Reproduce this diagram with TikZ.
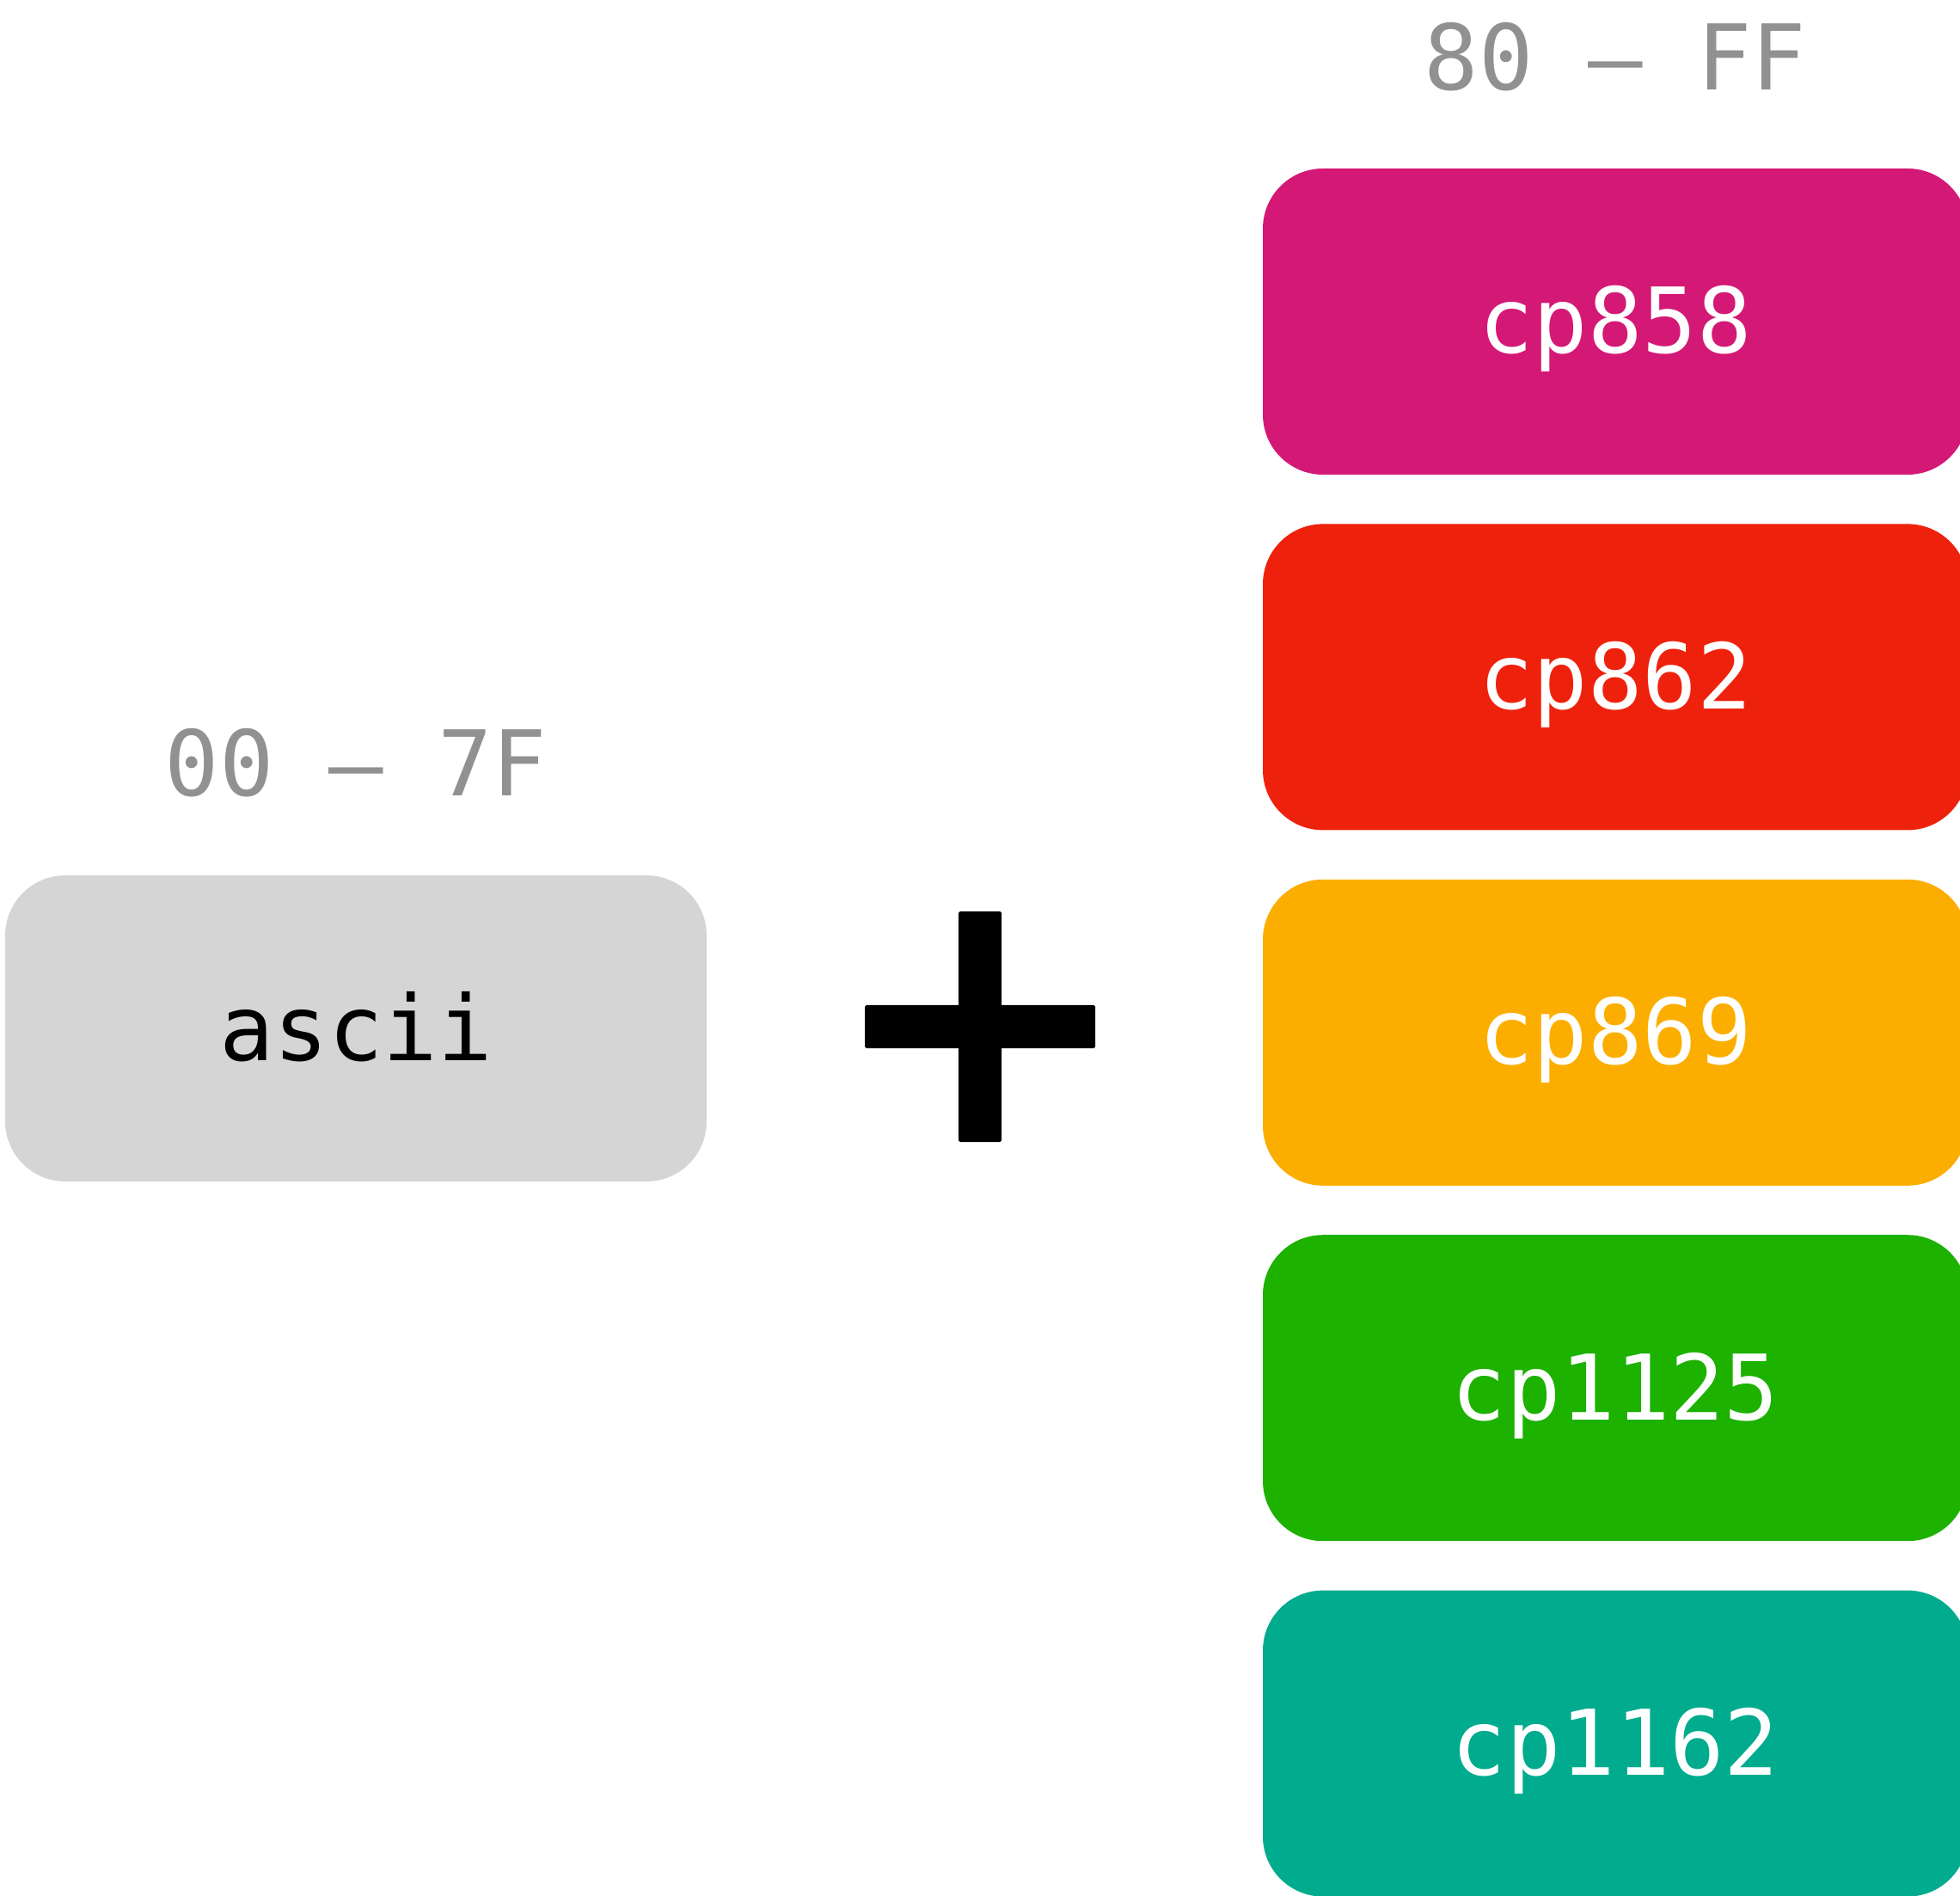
\documentclass[tikz,border=0pt]{standalone}
\usepackage{fontspec}
\setmonofont{DejaVu Sans Mono}
\usetikzlibrary{positioning}

\definecolor{boxgray}{HTML}{D5D5D5}
\definecolor{labelgray}{HTML}{919191}
\definecolor{cpmagenta}{HTML}{D41876}
\definecolor{cpred}{HTML}{EE220C}
\definecolor{cporange}{HTML}{FCAE00}
\definecolor{cpgreen}{HTML}{1DB100}
\definecolor{cpteal}{HTML}{00AB8E}

\tikzset{
	codebox/.style={rounded corners=0.7cm, minimum height=3.56cm, inner sep=0pt,
		text height=0.74cm, text depth=0pt, font=\ttfamily\fontsize{30}{36}\selectfont},
	pagebox/.style={codebox, minimum width=8.2cm, text=white},
	rangelabel/.style={anchor=base, inner sep=0pt, text=labelgray,
		font=\ttfamily\fontsize{30}{36}\selectfont}
}

\begin{document}
\begin{tikzpicture}
	\clip (0,0) rectangle (22.8,22.04);
	
	\node[codebox, fill=boxgray, minimum width=8.16cm] (ascii) at (4.14,10.08) {ascii};
	\node[rangelabel] (lowrange) at ([yshift=0.92cm]ascii.north) {00 — 7F};
	
	\coordinate (plus) at (11.40,10.10);
	\fill[rounded corners=0.5pt] ([xshift=-1.34cm,yshift=-0.25cm]plus) rectangle ([xshift=1.34cm,yshift=0.25cm]plus);
	\fill[rounded corners=0.5pt] ([xshift=-0.25cm,yshift=-1.34cm]plus) rectangle ([xshift=0.25cm,yshift=1.34cm]plus);
	
	\node[pagebox, fill=cpmagenta] (cp858) at (18.79,18.30) {cp858};
	\node[pagebox, fill=cpred, below=0.56cm of cp858] (cp862) {cp862};
	\node[pagebox, fill=cporange, below=0.56cm of cp862] (cp869) {cp869};
	\node[pagebox, fill=cpgreen, below=0.56cm of cp869] (cp1125) {cp1125};
	\node[pagebox, fill=cpteal, below=0.56cm of cp1125] (cp1162) {cp1162};
	\node[rangelabel] (highrange) at ([yshift=0.91cm]cp858.north) {80 — FF};
\end{tikzpicture}
\end{document}
